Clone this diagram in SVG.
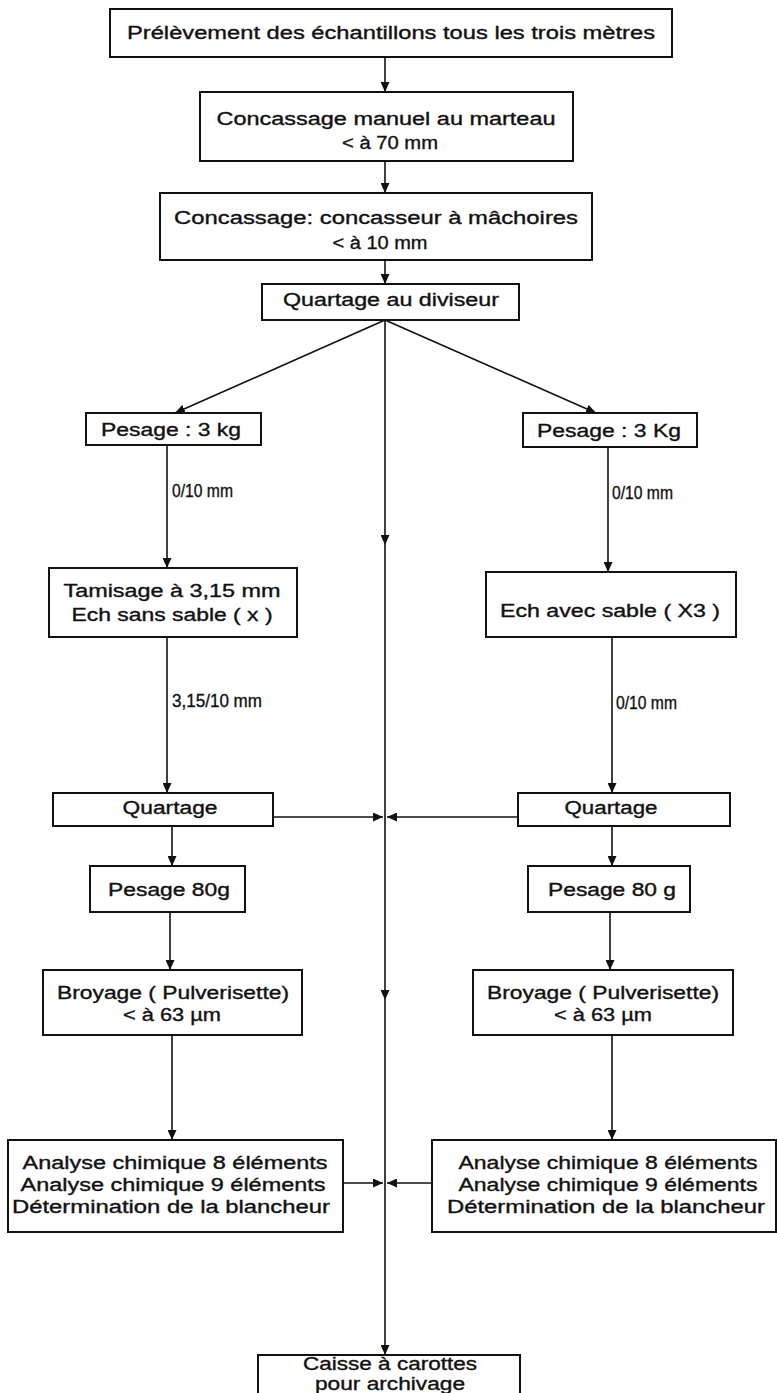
<svg xmlns="http://www.w3.org/2000/svg" width="777" height="1393" viewBox="0 0 777 1393">
<defs>
<marker id="ah" viewBox="0 0 10 10" refX="10" refY="5" markerWidth="10" markerHeight="9" markerUnits="userSpaceOnUse" orient="auto" preserveAspectRatio="none">
<path d="M0,0 L10,5 L0,10 z" fill="#111"/>
</marker>
<style>
.box{fill:#fff;stroke:#111;stroke-width:2}
.t{font-family:"Liberation Sans",Arial,sans-serif;font-size:18px;fill:#111;text-anchor:middle;stroke:#111;stroke-width:0.35}
.l{font-family:"Liberation Sans",Arial,sans-serif;font-size:18px;fill:#111;text-anchor:start;stroke:#111;stroke-width:0.35}
.c{fill:none;stroke:#111;stroke-width:1.6;marker-end:url(#ah)}
</style>
</defs>
<rect width="777" height="1393" fill="#fff"/>
<g id="connectors">
<line class="c" x1="385" y1="57" x2="385" y2="92"/>
<line class="c" x1="385" y1="161" x2="385" y2="193"/>
<line class="c" x1="385" y1="260" x2="385" y2="284"/>
<line class="c" x1="385" y1="320" x2="175" y2="413"/>
<line class="c" x1="385" y1="320" x2="596" y2="413"/>
<line class="c" x1="385" y1="320" x2="385" y2="545"/>
<line class="c" x1="385" y1="545" x2="385" y2="1000"/>
<line class="c" x1="385" y1="1000" x2="385" y2="1355"/>
<line class="c" x1="167" y1="445" x2="167" y2="568"/>
<line class="c" x1="608" y1="447" x2="608" y2="572"/>
<line class="c" x1="167" y1="637" x2="167" y2="793"/>
<line class="c" x1="612" y1="637" x2="612" y2="793"/>
<line class="c" x1="273" y1="817" x2="383" y2="817"/>
<line class="c" x1="518" y1="817" x2="387" y2="817"/>
<line class="c" x1="172" y1="826" x2="172" y2="866"/>
<line class="c" x1="612" y1="826" x2="612" y2="866"/>
<line class="c" x1="170" y1="912" x2="170" y2="970"/>
<line class="c" x1="610" y1="912" x2="610" y2="970"/>
<line class="c" x1="172" y1="1035" x2="172" y2="1140"/>
<line class="c" x1="612" y1="1035" x2="612" y2="1140"/>
<line class="c" x1="343" y1="1183" x2="383" y2="1183"/>
<line class="c" x1="432" y1="1183" x2="387" y2="1183"/>
<text class="l" x="172" y="497" textLength="61" lengthAdjust="spacingAndGlyphs">0/10 mm</text>
<text class="l" x="612" y="499" textLength="61" lengthAdjust="spacingAndGlyphs">0/10 mm</text>
<text class="l" x="172" y="707" textLength="90" lengthAdjust="spacingAndGlyphs">3,15/10 mm</text>
<text class="l" x="616" y="709" textLength="61" lengthAdjust="spacingAndGlyphs">0/10 mm</text>
</g>
<g id="n1">
<rect class="box" x="110" y="9" width="562" height="48"/>
<text class="t" x="391" y="39" textLength="528" lengthAdjust="spacingAndGlyphs">Prélèvement des échantillons tous les trois mètres</text>
</g>
<g id="n2">
<rect class="box" x="200" y="92" width="373" height="69"/>
<text class="t" x="386" y="125" textLength="339" lengthAdjust="spacingAndGlyphs">Concassage manuel au marteau</text>
<text class="t" x="390" y="149" textLength="96" lengthAdjust="spacingAndGlyphs">&lt; à 70 mm</text>
</g>
<g id="n3">
<rect class="box" x="160" y="193" width="432" height="67"/>
<text class="t" x="376" y="224" textLength="404" lengthAdjust="spacingAndGlyphs">Concassage:  concasseur à mâchoires</text>
<text class="t" x="380" y="249" textLength="95" lengthAdjust="spacingAndGlyphs">&lt; à 10 mm</text>
</g>
<g id="n4">
<rect class="box" x="262" y="284" width="257" height="36"/>
<text class="t" x="391" y="306" textLength="216" lengthAdjust="spacingAndGlyphs">Quartage au diviseur</text>
</g>
<g id="n5">
<rect class="box" x="86" y="413" width="175" height="32"/>
<text class="t" x="171" y="436" textLength="140" lengthAdjust="spacingAndGlyphs">Pesage : 3 kg</text>
</g>
<g id="n6">
<rect class="box" x="523" y="413" width="174" height="34"/>
<text class="t" x="609" y="437" textLength="144" lengthAdjust="spacingAndGlyphs">Pesage : 3 Kg</text>
</g>
<g id="n7">
<rect class="box" x="49" y="568" width="248" height="69"/>
<text class="t" x="172" y="597" textLength="217" lengthAdjust="spacingAndGlyphs">Tamisage à 3,15 mm</text>
<text class="t" x="172" y="621" textLength="201" lengthAdjust="spacingAndGlyphs">Ech sans sable ( x )</text>
</g>
<g id="n8">
<rect class="box" x="486" y="572" width="250" height="65"/>
<text class="t" x="610" y="617" textLength="220" lengthAdjust="spacingAndGlyphs">Ech avec sable ( X3 )</text>
</g>
<g id="n9">
<rect class="box" x="53" y="793" width="220" height="33"/>
<text class="t" x="170" y="814" textLength="95" lengthAdjust="spacingAndGlyphs">Quartage</text>
</g>
<g id="n10">
<rect class="box" x="518" y="793" width="212" height="33"/>
<text class="t" x="611" y="814" textLength="93" lengthAdjust="spacingAndGlyphs">Quartage</text>
</g>
<g id="n11">
<rect class="box" x="90" y="866" width="155" height="46"/>
<text class="t" x="169" y="896" textLength="122" lengthAdjust="spacingAndGlyphs">Pesage  80g</text>
</g>
<g id="n12">
<rect class="box" x="528" y="866" width="162" height="46"/>
<text class="t" x="612" y="896" textLength="128" lengthAdjust="spacingAndGlyphs">Pesage 80 g</text>
</g>
<g id="n13">
<rect class="box" x="43" y="970" width="259" height="65"/>
<text class="t" x="173" y="999" textLength="232" lengthAdjust="spacingAndGlyphs">Broyage ( Pulverisette)</text>
<text class="t" x="172" y="1021" textLength="98" lengthAdjust="spacingAndGlyphs">&lt; à 63 µm</text>
</g>
<g id="n14">
<rect class="box" x="473" y="970" width="260" height="65"/>
<text class="t" x="603" y="999" textLength="232" lengthAdjust="spacingAndGlyphs">Broyage ( Pulverisette)</text>
<text class="t" x="603" y="1021" textLength="98" lengthAdjust="spacingAndGlyphs">&lt; à 63 µm</text>
</g>
<g id="n15">
<rect class="box" x="8" y="1140" width="335" height="92"/>
<text class="t" x="175" y="1169" textLength="305" lengthAdjust="spacingAndGlyphs">Analyse chimique 8 éléments</text>
<text class="t" x="173" y="1191" textLength="305" lengthAdjust="spacingAndGlyphs">Analyse chimique 9 éléments</text>
<text class="t" x="171" y="1213" textLength="318" lengthAdjust="spacingAndGlyphs">Détermination de la blancheur</text>
</g>
<g id="n16">
<rect class="box" x="432" y="1140" width="344" height="92"/>
<text class="t" x="608" y="1169" textLength="299" lengthAdjust="spacingAndGlyphs">Analyse chimique 8 éléments</text>
<text class="t" x="608" y="1191" textLength="299" lengthAdjust="spacingAndGlyphs">Analyse chimique 9 éléments</text>
<text class="t" x="606" y="1213" textLength="318" lengthAdjust="spacingAndGlyphs">Détermination de la blancheur</text>
</g>
<g id="n17">
<rect class="box" x="258" y="1355" width="262" height="50"/>
<text class="t" x="390" y="1370" textLength="174" lengthAdjust="spacingAndGlyphs">Caisse à carottes</text>
<text class="t" x="390" y="1390" textLength="150" lengthAdjust="spacingAndGlyphs">pour archivage</text>
</g>
</svg>
